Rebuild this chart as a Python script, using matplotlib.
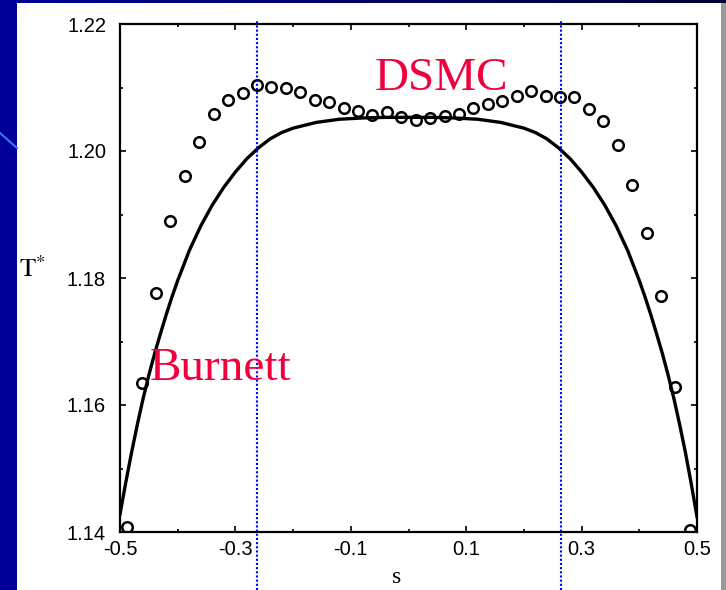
import numpy as np
import matplotlib
matplotlib.use("Agg")
import matplotlib.pyplot as plt
from matplotlib.patches import Rectangle
from matplotlib.lines import Line2D

plt.rcParams["axes.unicode_minus"] = False
plt.rcParams["mathtext.fontset"] = "stix"

# DSMC points (open circles)
dsmc_s = [-0.4875, -0.4625, -0.4375, -0.4125, -0.3875, -0.3625, -0.3375, -0.3125,
          -0.2875, -0.2625, -0.2375, -0.2125, -0.1875, -0.1625, -0.1375, -0.1125,
          -0.0875, -0.0625, -0.0375, -0.0125, 0.0125, 0.0375, 0.0625, 0.0875,
          0.1125, 0.1375, 0.1625, 0.1875, 0.2125, 0.2375, 0.2625, 0.2875,
          0.3125, 0.3375, 0.3625, 0.3875, 0.4125, 0.4375, 0.4625, 0.4875]
dsmc_T = [1.1408, 1.1635, 1.1776, 1.1889, 1.1961, 1.2014, 1.2059, 1.2081,
          1.2091, 1.2104, 1.2101, 1.2099, 1.2093, 1.2081, 1.2077, 1.2068,
          1.2063, 1.2056, 1.2061, 1.2053, 1.2049, 1.2052, 1.2055, 1.2058,
          1.2067, 1.2074, 1.2078, 1.2086, 1.2095, 1.2087, 1.2085, 1.2085,
          1.2066, 1.2047, 1.2009, 1.1946, 1.1871, 1.1772, 1.1629, 1.1403]

# Burnett solution (solid line)
burnett_s = [-0.50, -0.49, -0.48, -0.47, -0.46, -0.45, -0.44, -0.43, -0.42, -0.41,
             -0.40, -0.38, -0.36, -0.34, -0.32, -0.30, -0.28, -0.26, -0.24, -0.22,
             -0.20, -0.16, -0.12, -0.08, -0.04, 0.00,
             0.04, 0.08, 0.12, 0.16, 0.20, 0.22, 0.24, 0.26, 0.28, 0.30,
             0.32, 0.34, 0.36, 0.38, 0.40, 0.41, 0.42, 0.43, 0.44, 0.45,
             0.46, 0.47, 0.48, 0.49, 0.50]
burnett_T = [1.1428, 1.1478, 1.1525, 1.1569, 1.1610, 1.1647, 1.1681, 1.1712, 1.1742, 1.1770,
             1.1796, 1.1843, 1.1882, 1.1915, 1.1943, 1.1967, 1.1988, 1.2005, 1.2019, 1.2029,
             1.2036, 1.2045, 1.2050, 1.2052, 1.2053, 1.2053,
             1.2053, 1.2052, 1.2050, 1.2045, 1.2036, 1.2029, 1.2019, 1.2005, 1.1988, 1.1967,
             1.1943, 1.1915, 1.1882, 1.1843, 1.1796, 1.1770, 1.1742, 1.1712, 1.1681, 1.1647,
             1.1610, 1.1569, 1.1525, 1.1476, 1.1424]

marker_lines = [-0.263, 0.264]

xticks = [-0.5, -0.3, -0.1, 0.1, 0.3, 0.5]
xtick_labels = ["-0.5", "-0.3", "-0.1", "0.1", "0.3", "0.5"]
yticks = [1.14, 1.16, 1.18, 1.20, 1.22]
ytick_labels = ["1.14", "1.16", "1.18", "1.20", "1.22"]

W, H = 726, 590
fig = plt.figure(figsize=(W / 100, H / 100), dpi=100)
fig.patch.set_facecolor("#000099")

# slide background: white panel, grey edge, dark top strip, light diagonal
fig.patches.append(Rectangle((17 / W, 0), (721 - 17) / W, 587 / H,
                             transform=fig.transFigure, facecolor="white",
                             edgecolor="none", zorder=-5))
fig.patches.append(Rectangle((721 / W, 0), 5 / W, 587 / H,
                             transform=fig.transFigure, facecolor="#999999",
                             edgecolor="none", zorder=-5))
top = fig.add_axes([0, 587 / H, 1, 3 / H])
top.imshow(np.linspace(0, 1, 256).reshape(1, -1), aspect="auto",
           cmap=matplotlib.colors.LinearSegmentedColormap.from_list("t", ["#000099", "#000033"]))
top.axis("off")
fig.lines.append(Line2D([0, 17 / W], [1 - 133 / H, 1 - 148 / H],
                        transform=fig.transFigure, color="#3f6fff", lw=1.5, zorder=-4))

ax = fig.add_axes([120 / W, (H - 532) / H, 577 / W, 508 / H])
ax.set_zorder(2)
ax.set_facecolor("white")

ax.plot(burnett_s, burnett_T, color="black", lw=2.4, solid_joinstyle="round", zorder=3)
ax.plot(dsmc_s, dsmc_T, linestyle="none", marker="o", markersize=7.6,
        markerfacecolor="none", markeredgecolor="black", markeredgewidth=1.8, zorder=4)

for xv in marker_lines:
    ax.axvline(xv, ymin=-0.115, ymax=1.008, color="#0000ff", lw=1.5,
               linestyle=(0, (1, 1)), clip_on=False, zorder=5)

ax.set_xlim(-0.5, 0.5)
ax.set_ylim(1.14, 1.22)
ax.set_xticks(xticks)
ax.set_xticklabels(xtick_labels)
ax.set_yticks(yticks)
ax.set_yticklabels(ytick_labels)
ax.set_xticks([-0.4, -0.2, 0.0, 0.2, 0.4], minor=True)
ax.set_yticks([1.15, 1.17, 1.19, 1.21], minor=True)
ax.tick_params(which="both", direction="in", top=True, right=True,
               width=1.2, color="black")
ax.tick_params(which="major", length=4.5)
ax.tick_params(which="minor", length=2.2)
ax.tick_params(axis="x", which="major", pad=6, labelsize=14.5)
ax.tick_params(axis="y", which="major", pad=10, labelsize=14.5)
for lab in ax.get_xticklabels() + ax.get_yticklabels():
    lab.set_fontfamily("Liberation Sans")
for sp in ax.spines.values():
    sp.set_linewidth(1.6)

ax.set_xlabel("s", family="Liberation Serif", fontsize=17)
ax.xaxis.set_label_coords(0.48, -0.068)
ax.set_ylabel(r"$\mathrm{T}^{*}$", fontsize=19, rotation=0)
ax.yaxis.set_label_coords(-0.152, 0.49)

ax.text(-0.058, 1.2096, "DSMC", family="Liberation Serif", fontsize=34,
        color="#f0003c", ha="left", va="baseline", zorder=6)
ax.text(-0.449, 1.1639, "Burnett", family="Liberation Serif", fontsize=34,
        color="#f0003c", ha="left", va="baseline", zorder=6)

fig.savefig("out.png", dpi=100, facecolor=fig.get_facecolor())
